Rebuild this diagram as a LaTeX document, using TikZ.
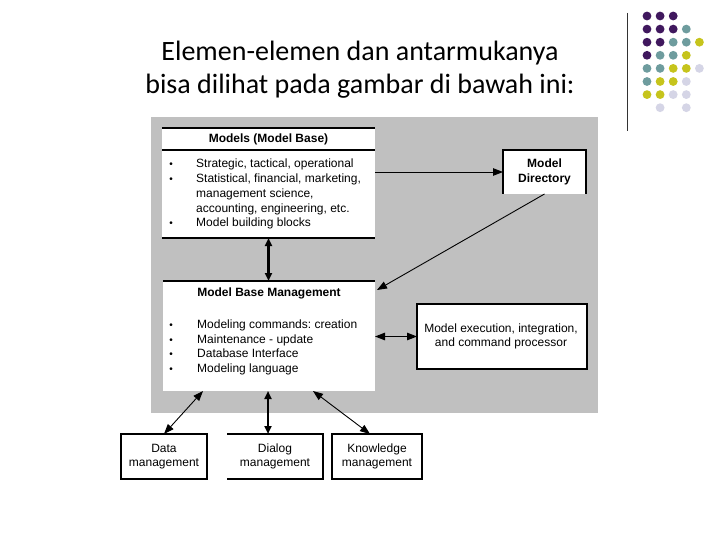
\documentclass[tikz,border=0pt]{standalone}
\usepackage{fontspec}
\setmainfont{Liberation Sans}
\newfontfamily\titlefont{Carlito}
\usetikzlibrary{arrows.meta}
\frenchspacing
\definecolor{bggray}{RGB}{192,192,192}
\definecolor{dpurple}{RGB}{64,24,94}
\definecolor{dteal}{RGB}{110,156,158}
\definecolor{dyellow}{RGB}{198,196,28}
\definecolor{dlav}{RGB}{213,213,230}
\begin{document}
\begin{tikzpicture}[x=1pt,y=-1pt,
  box/.style={fill=white,draw=none,inner sep=0pt,outer sep=0pt,anchor=north west},
  edge/.style={line width=1.1pt,black},
  txt/.style={font=\fontsize{12}{14.5}\selectfont,inner sep=0pt,anchor=base west},
  ctxt/.style={font=\fontsize{12}{14.5}\selectfont,inner sep=0pt,align=center},
  bul/.style={font=\fontsize{10}{10}\selectfont,inner sep=0pt,anchor=base},
  thin/.style={line width=0.9pt,-{Triangle[length=10pt,width=7.5pt]}},
  thinb/.style={line width=0.9pt,{Triangle[length=10pt,width=7.5pt]}-{Triangle[length=10pt,width=7.5pt]}},
  thickb/.style={line width=2.2pt,{Triangle[length=8pt,width=7pt]}-{Triangle[length=8pt,width=7pt]}},
  dot/.style={circle,inner sep=0pt,minimum size=8.8pt}]
\useasboundingbox (0,0) rectangle (720,540);
\fill[white] (0,0) rectangle (720,540);
% title
\node[anchor=base,inner sep=0pt,font=\titlefont\fontsize{28}{33}\selectfont] (t1) at (360,61) {Elemen-elemen dan antarmukanya};
\node[anchor=base,inner sep=0pt,font=\titlefont\fontsize{28}{33}\selectfont] (t2) at (360,94) {bisa dilihat pada gambar di bawah ini:};
% decoration
\coordinate (vl1) at (627,13);
\coordinate (vl2) at (627,131);
\draw[line width=0.9pt,black!80] (vl1) -- (vl2);
\foreach \c/\r/\col in {0/0/dpurple,1/0/dpurple,2/0/dpurple,
  0/1/dpurple,1/1/dpurple,2/1/dpurple,3/1/dteal,
  0/2/dpurple,1/2/dpurple,2/2/dteal,3/2/dteal,4/2/dyellow,
  0/3/dpurple,1/3/dteal,2/3/dteal,3/3/dyellow,
  0/4/dteal,1/4/dteal,2/4/dyellow,3/4/dyellow,4/4/dlav,
  0/5/dteal,1/5/dyellow,2/5/dyellow,3/5/dlav,
  0/6/dyellow,1/6/dyellow,2/6/dlav,3/6/dlav,
  1/7/dlav,3/7/dlav}
  \node[dot,fill=\col] (d\c\r) at (647+13.1*\c,16+13.1*\r) {};
% gray panel
\fill[bggray] (151,117) rectangle (598,413);
% Models box
\node[box,minimum width=213pt,minimum height=110pt] (mb) at (162,128) {};
\draw[edge] (mb.north west) -- (mb.north east);
\draw[edge] ([yshift=-22pt]mb.north west) -- ([yshift=-22pt]mb.north east);
\draw[edge] (mb.south west) -- (mb.south east);
\node[anchor=base,inner sep=0pt,font=\bfseries\fontsize{12}{14.5}\selectfont] (mbt) at (268.5,143) {Models (Model Base)};
\node[bul] (b1) at (171,168) {•};
\node[txt] (m1) at (196,168) {Strategic, tactical, operational};
\node[bul] (b2) at (171,183) {•};
\node[txt] (m2) at (196,183) {Statistical, financial, marketing,};
\node[txt] (m3) at (196,197.5) {management science,};
\node[txt] (m4) at (196,212) {accounting, engineering, etc.};
\node[bul] (b3) at (171,226) {•};
\node[txt] (m5) at (196,226) {Model building blocks};
% Model Directory
\node[box,minimum width=83pt,minimum height=44pt] (md) at (503,150) {};
\draw[edge] (md.south west) -- (md.north west) -- (md.north east) -- (md.south east);
\node[anchor=base,inner sep=0pt,font=\bfseries\fontsize{12}{14.5}\selectfont] (mdt1) at (544.5,168) {Model};
\node[anchor=base,inner sep=0pt,font=\bfseries\fontsize{12}{14.5}\selectfont] (mdt2) at (544.5,183) {Directory};
% Model Base Management
\node[box,minimum width=212pt,minimum height=110pt] (mbm) at (163,281) {};
\draw[edge] (mbm.north west) -- (mbm.north east);
\node[anchor=base,inner sep=0pt,font=\bfseries\fontsize{12}{14.5}\selectfont] (mbmt) at (269,296) {Model Base Management};
\node[bul] (c1) at (171,328) {•};
\node[txt] (n1) at (197,328) {Modeling commands: creation};
\node[bul] (c2) at (171,343) {•};
\node[txt] (n2) at (197,343) {Maintenance - update};
\node[bul] (c3) at (171,357) {•};
\node[txt] (n3) at (197,357) {Database Interface};
\node[bul] (c4) at (171,372) {•};
\node[txt] (n4) at (197,372) {Modeling language};
% Model execution
\node[box,draw=black,line width=1.1pt,minimum width=170pt,minimum height=65pt] (ex) at (417,304) {};
\node[ctxt] (ext) at (501,336.5) {Model execution, integration,\\and command processor};
% bottom boxes
\node[box,draw=black,line width=1.1pt,minimum width=86pt,minimum height=45pt] (dm) at (121,434) {};
\node[ctxt] (dmt) at (164,456.5) {Data\\management};
\node[box,minimum width=96pt,minimum height=45pt] (dg) at (227,434) {};
\draw[edge] (dg.north west) -- (dg.north east) -- (dg.south east) -- (dg.south west);
\node[ctxt] (dgt) at (275,456.5) {Dialog\\management};
\node[box,draw=black,line width=1.1pt,minimum width=90pt,minimum height=45pt] (km) at (332,434) {};
\node[ctxt] (kmt) at (377,456.5) {Knowledge\\management};
% connectors
\draw[thin] (mb.east |- md.west) -- (md.west);
\draw[thin] (md.south) -- ([xshift=2pt,yshift=-9pt]mbm.north east);
\draw[thickb] (mb.south) -- (mb.south |- mbm.north);
\draw[thinb,line width=1.3pt] (mbm.east |- ex.west) -- (ex.west);
\draw[thinb] ([xshift=40pt]mbm.south west) -- (dm.north);
\draw[thickb] ([xshift=105pt]mbm.south west) -- ([xshift=105pt]mbm.south west |- dg.north);
\draw[thinb] ([xshift=150pt]mbm.south west) -- ([xshift=38pt]km.north west);
\end{tikzpicture}
\end{document}
